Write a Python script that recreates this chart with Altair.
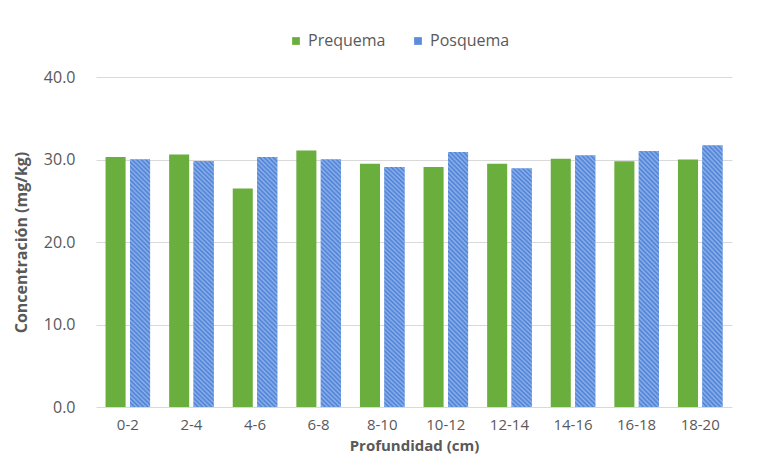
import altair as alt
import pandas as pd

categories = ["0-2", "2-4", "4-6", "6-8", "8-10", "10-12", "12-14", "14-16", "16-18", "18-20"]
prequema = [30.3, 30.6, 26.5, 31.1, 29.5, 29.1, 29.5, 30.1, 29.8, 30.0]
posquema = [30.0, 29.8, 30.3, 30.0, 29.1, 30.9, 28.9, 30.5, 31.0, 31.7]
series = ["Prequema", "Posquema"]
y_ticks = [0, 10, 20, 30, 40]

rows = []
for c, a, b in zip(categories, prequema, posquema):
    rows.append({"prof": c, "serie": "Prequema", "valor": a})
    rows.append({"prof": c, "serie": "Posquema", "valor": b})
df = pd.DataFrame(rows)

GREEN = "#6aae3e"
BLUE = "#5b8ddb"
DARK = "#4a7fd6"
LIGHT = "#8fb2ea"
FONT = "Open Sans"
TXT = "#595959"

# diagonal hatch approximated with a repeating linear gradient
n_periods = 60
stops = []
for k in range(n_periods):
    o = k / n_periods
    stops.append({"offset": round(o, 5), "color": DARK})
    stops.append({"offset": round(o + 0.5 / n_periods, 5), "color": LIGHT})
stops.append({"offset": 1.0, "color": DARK})
hatch = {"gradient": "linear", "x1": 0, "y1": 1, "x2": 0.086, "y2": -0.073, "stops": stops}

x_enc = alt.X(
    "prof:N",
    sort=categories,
    scale=alt.Scale(paddingInner=0.3, paddingOuter=0.15),
    axis=alt.Axis(
        title="Profundidad (cm)",
        labelAngle=0,
        domain=False,
        ticks=False,
        labelPadding=10,
        titlePadding=6,
        labelFontSize=15,
        titleFontSize=15,
    ),
)
xo_enc = alt.XOffset("serie:N", sort=series, scale=alt.Scale(domain=series, paddingInner=0.18))
y_enc = alt.Y(
    "valor:Q",
    scale=alt.Scale(domain=[0, 40]),
    axis=alt.Axis(
        title="Concentración (mg/kg)",
        values=y_ticks,
        format=".1f",
        domain=False,
        ticks=False,
        grid=True,
        labelPadding=21,
        titlePadding=14,
    ),
)

base = alt.Chart(df)

bars = base.mark_bar().encode(
    x=x_enc,
    xOffset=xo_enc,
    y=y_enc,
    color=alt.Color(
        "serie:N",
        sort=series,
        scale=alt.Scale(domain=series, range=[GREEN, BLUE]),
        legend=alt.Legend(
            title=None,
            orient="none",
            direction="horizontal",
            legendX=192,
            legendY=-44,
            symbolType="square",
            symbolSize=60,
            symbolStrokeWidth=0,
            labelFontSize=16,
            labelColor=TXT,
            labelFont=FONT,
            columnPadding=24,
        ),
    ),
)

hatched = base.transform_filter(alt.datum.serie == "Posquema").mark_bar(fill=hatch).encode(
    x=x_enc,
    xOffset=xo_enc,
    y=y_enc,
)

chart = (
    alt.layer(bars, hatched)
    .properties(width=636, height=330, padding={"left": 5, "top": 25, "right": 10, "bottom": 6}, background="white")
    .configure_view(stroke=None)
    .configure_axis(
        labelFont=FONT,
        titleFont=FONT,
        labelFontSize=16,
        titleFontSize=16,
        labelColor=TXT,
        titleColor=TXT,
        gridColor="#d9d9d9",
        gridWidth=1,
    )
)

chart.save("out.html", embed_options={"renderer": "svg", "actions": False})
